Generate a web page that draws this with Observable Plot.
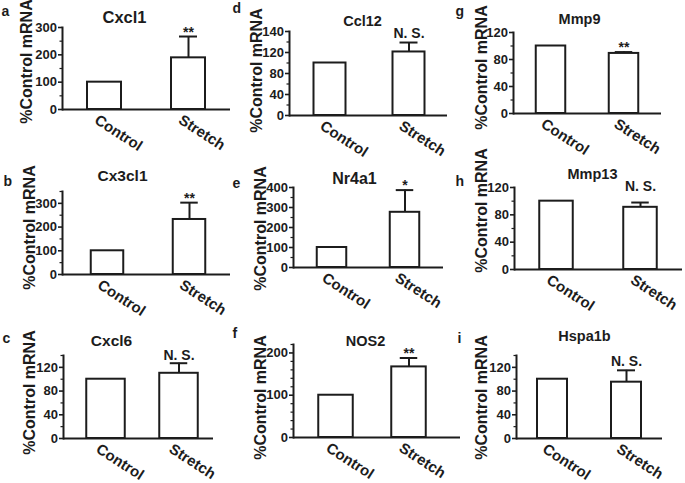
<!DOCTYPE html>
<html><head><meta charset="utf-8">
<script src="https://cdn.jsdelivr.net/npm/d3@7"></script>
<script src="https://cdn.jsdelivr.net/npm/@observablehq/plot@0.6"></script>
<style>
body{margin:0;background:#fff;}
#fig{position:relative;width:685px;height:483px;overflow:hidden;background:#fff;}
.panel{position:absolute;}
</style></head><body><div id="fig"></div>
<script>
// ---- data ----
const panelLetters = ["a","b","c","d","e","f","g","h","i"];
const genes = ["Cxcl1","Cx3cl1","Cxcl6","Ccl12","Nr4a1","NOS2","Mmp9","Mmp13","Hspa1b"];
const groups = ["Control","Stretch"];
const controlMean = [100,100,100,100,100,100,100,100,100];
const stretchMean = [189,232,110,121,276,167,89,91,95];
const stretchSem  = [78,71,17,18,111,21,2,7,20];
const significance = ["**","**","N. S.","N. S.","*","**","**","N. S.","N. S."];
const yMax = [300,350,140,160,400,220,120,120,140];
const yMajorTicks = [
  [0,100,200,300],[0,100,200,300],[0,40,80,120],
  [0,40,80,120,160],[0,100,200,300,400],[0,100,200],
  [0,40,80,120],[0,40,80,120],[0,40,80,120]
];
const yMajorTickLabels = [
  ["0","100","200","300"],["0","100","200","300"],["0","40","80","120"],
  ["0","40","80","120","140"],["0","100","200","300","400"],["0","100","200"],
  ["0","40","80","120"],["0","40","80","120"],["0","40","80","120"]
];
const yMinorTicks = [
  [50,150,250],[50,150,250,350],[20,60,100,140],
  [20,60,100,140],[50,150,250,350],[20,40,60,80,120,140,160,180,220],
  [20,60,100],[20,60,100],[20,60,100,140]
];
const yAxisTitle = "%Control mRNA";

// ---- layout (page pixels) ----
const layout = [
  {left:0,top:0,width:230,height:160,axisX:62,right:230,yTop:27,y0:109,c1:104,c2:188,barW:34,titleX:124,titleBase:22.5,titleSize:16.5,letterX:1,letterBase:15,labelX:31,labelY:61,sigDy:0},
  {left:0,top:160,width:230,height:160,axisX:62,right:230,yTop:191,y0:274,c1:106.5,c2:189,barW:33,titleX:122,titleBase:180,titleSize:15.5,letterX:3,letterBase:185,labelX:34,labelY:227,sigDy:0},
  {left:0,top:320,width:230,height:163,axisX:63,right:213,yTop:355,y0:438,c1:105.5,c2:179,barW:39,titleX:111,titleBase:345,titleSize:15.5,letterX:2,letterBase:342,labelX:34.5,labelY:392,sigDy:-3},
  {left:230,top:0,width:225,height:160,axisX:289,right:447,yTop:31,y0:115,c1:329,c2:408,barW:32,titleX:362,titleBase:25,titleSize:14.5,letterX:232,letterBase:12,labelX:261.5,labelY:70,sigDy:-5},
  {left:230,top:160,width:225,height:160,axisX:293,right:443,yTop:187,y0:267,c1:331,c2:404.5,barW:30,titleX:354,titleBase:183,titleSize:16,letterX:232,letterBase:187,labelX:265.5,labelY:228,sigDy:0},
  {left:230,top:320,width:232,height:163,axisX:293,right:460,yTop:344,y0:437,c1:335.5,c2:409,barW:35,titleX:365,titleBase:345,titleSize:14.5,letterX:232,letterBase:337,labelX:265.5,labelY:397,sigDy:0},
  {left:455,top:0,width:230,height:160,axisX:513,right:661,yTop:32,y0:113,c1:550,c2:623.5,barW:30,titleX:579,titleBase:23,titleSize:14.5,letterX:455,letterBase:15,labelX:486,labelY:67,sigDy:0},
  {left:455,top:160,width:230,height:160,axisX:514,right:682,yTop:187,y0:269,c1:556,c2:640.5,barW:34,titleX:592,titleBase:178,titleSize:14.5,letterX:455,letterBase:185,labelX:486.5,labelY:210,sigDy:-12},
  {left:455,top:320,width:230,height:163,axisX:516,right:662,yTop:355,y0:438,c1:552,c2:626,barW:30,titleX:584,titleBase:340,titleSize:14.5,letterX:457,letterBase:342,labelX:486.5,labelY:397,sigDy:-4}
];

const ink = "#1c1c1c";
const fig = document.getElementById("fig");

genes.forEach((gene, i) => {
  const L = layout[i];
  const mL = L.axisX - L.left, mR = L.left + L.width - L.right;
  const mT = L.yTop - L.top, mB = L.top + L.height - L.y0;
  const step = L.c2 - L.c1;
  const xr = [L.c1 - step / 2 - L.left, L.c2 + step / 2 - L.left];
  const barInset = (step - L.barW) / 2;
  const capInset = (step - 18) / 2;
  const bars = groups.map((g, j) => ({group: g, value: j === 0 ? controlMean[i] : stretchMean[i]}));
  const stretch = [{group: groups[1], value: stretchMean[i], upper: stretchMean[i] + stretchSem[i], sig: significance[i]}];
  const tickLabel = new Map(yMajorTicks[i].map((t, k) => [t, yMajorTickLabels[i][k]]));
  const bold = {fill: ink, fontWeight: "bold"};
  const plot = Plot.plot({
    width: L.width, height: L.height,
    marginLeft: mL, marginRight: mR, marginTop: mT, marginBottom: mB,
    style: {fontFamily: "'Liberation Sans', Arial, Helvetica, sans-serif", fontWeight: "bold",
            background: "transparent", overflow: "visible", color: ink},
    x: {type: "band", domain: groups, range: xr, padding: 0, axis: null},
    y: {domain: [0, yMax[i]]},
    marks: [
      Plot.ruleX(stretch, {x: "group", y1: "value", y2: "upper", stroke: ink, strokeWidth: 2}),
      Plot.tickY(stretch, {x: "group", y: "upper", insetLeft: capInset, insetRight: capInset, stroke: ink, strokeWidth: 2}),
      Plot.barY(bars, {x: "group", y: "value", fill: "white", stroke: ink, strokeWidth: 2, insetLeft: barInset, insetRight: barInset}),
      Plot.frame({anchor: "left", stroke: ink, strokeWidth: 2}),
      Plot.ruleY([0], {stroke: ink, strokeWidth: 2}),
      Plot.axisY(yMajorTicks[i], {anchor: "left", tickSize: 4, tickFormat: () => "", label: null, strokeWidth: 1.6}),
      Plot.axisY(yMinorTicks[i], {anchor: "left", tickSize: 2.5, tickFormat: () => "", label: null, strokeWidth: 1.2}),
      Plot.text(yMajorTicks[i], {y: d => d, text: d => tickLabel.get(d), frameAnchor: "left", textAnchor: "end", lineAnchor: "middle", dx: -5.5, fontSize: 13, ...bold}),
      Plot.text(stretch, {x: "group", y: "upper", text: "sig", lineAnchor: "bottom", dy: L.sigDy, fontSize: 14, ...bold}),
      Plot.text(groups, {x: d => d, text: d => d, frameAnchor: "bottom", rotate: 33, textAnchor: "start", lineAnchor: "bottom", dx: -11, dy: 13, fontSize: 15, ...bold}),
      Plot.text([gene], {frameAnchor: "top-left", text: d => d, textAnchor: "middle", lineAnchor: "bottom", dx: L.titleX - L.axisX, dy: L.titleBase - L.yTop, fontSize: L.titleSize, ...bold}),
      Plot.text([panelLetters[i]], {frameAnchor: "top-left", text: d => d, textAnchor: "start", lineAnchor: "bottom", dx: L.letterX - L.axisX, dy: L.letterBase - L.yTop, fontSize: 14, ...bold}),
      Plot.text([yAxisTitle], {frameAnchor: "top-left", text: d => d, rotate: -90, textAnchor: "middle", lineAnchor: "bottom", dx: L.labelX - L.axisX, dy: L.labelY - L.yTop, fontSize: 16, ...bold})
    ]
  });
  const div = document.createElement("div");
  div.className = "panel";
  div.style.left = L.left + "px";
  div.style.top = L.top + "px";
  div.style.width = L.width + "px";
  div.style.height = L.height + "px";
  div.appendChild(plot);
  fig.appendChild(div);
});
</script>
</body></html>
